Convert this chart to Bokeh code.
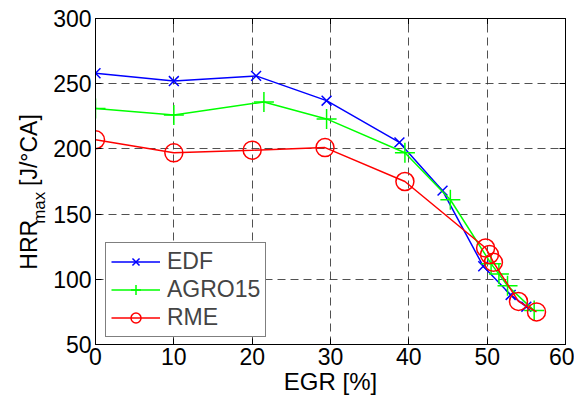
import math
from bokeh.plotting import figure
from bokeh.layouts import row
from bokeh.models import (Range1d, LinearAxis, FixedTicker, Legend, LegendItem)
from bokeh.core.properties import value
from bokeh.embed import file_html
from bokeh.resources import INLINE

# ---- data ----
edf_x = [0, 10, 20.5, 29.5, 38.8, 44.3, 49.5, 53.0, 55.0]
edf_y = [258, 252, 256, 237, 205, 168, 110, 88, 79]

agro_x = [0, 10, 21.5, 29.5, 39.5, 45.3, 50.5, 51.5, 52.6, 56.0]
agro_y = [231, 226, 236, 223, 197, 161, 112, 104, 95, 76]

rme_x = [0, 10, 20, 29.3, 39.5, 49.8, 50.3, 50.8, 54.0, 56.3]
rme_y = [207, 197, 199, 201, 175, 124, 119, 113, 83, 75]

x_ticks = [0, 10, 20, 30, 40, 50, 60]
y_ticks = [50, 100, 150, 200, 250, 300]

FONT = "Liberation Sans"
H = 397
LW = 48  # width of the y-label strip
TOP, BOTTOM = 18, 52

p = figure(width=574 - LW, height=H, output_backend="svg", toolbar_location=None,
           x_range=Range1d(0, 60), y_range=Range1d(50, 300),
           min_border_left=95 - LW, min_border_right=9, min_border_top=TOP,
           min_border_bottom=BOTTOM)
p.background_fill_color = "white"
p.outline_line_color = "black"
p.outline_line_width = 1

for ax in [p.xaxis[0], p.yaxis[0]]:
    ax.major_tick_in = 6
    ax.major_tick_out = 0
    ax.minor_tick_line_color = None
    ax.axis_line_color = "black"
    ax.major_tick_line_color = "black"
    ax.major_label_text_font = FONT
    ax.major_label_text_font_size = "23px"
    ax.major_label_text_color = "black"
    ax.axis_label_text_font = FONT
    ax.axis_label_text_font_size = "24px"
    ax.axis_label_text_font_style = "normal"
    ax.axis_label_text_color = "black"

p.xaxis[0].ticker = FixedTicker(ticks=x_ticks)
p.yaxis[0].ticker = FixedTicker(ticks=y_ticks)
p.xaxis[0].axis_label = "EGR [%]"
p.xaxis[0].major_label_standoff = 3
p.xaxis[0].axis_label_standoff = 0
p.yaxis[0].major_label_standoff = 4

top = LinearAxis(ticker=FixedTicker(ticks=x_ticks),
                 major_label_overrides={t: "" for t in x_ticks},
                 major_tick_in=6, major_tick_out=0, minor_tick_line_color=None,
                 axis_line_color="black", major_label_standoff=0)
right = LinearAxis(ticker=FixedTicker(ticks=y_ticks),
                   major_label_overrides={t: "" for t in y_ticks},
                   major_tick_in=6, major_tick_out=0, minor_tick_line_color=None,
                   axis_line_color="black", major_label_standoff=0)
p.add_layout(top, "above")
p.add_layout(right, "right")

for g in [p.xgrid[0], p.ygrid[0]]:
    g.grid_line_color = "#333333"
    g.grid_line_dash = "8 5"
    g.grid_line_width = 1
    g.grid_line_alpha = 0.85

BLUE, GREEN, RED = "#0000FF", "#00FF00", "#FF0000"

l1 = p.line(edf_x, edf_y, line_color=BLUE, line_width=1.5)
m1 = p.scatter(edf_x, edf_y, marker="x", size=14, line_color=BLUE, line_width=1.5)
l2 = p.line(agro_x, agro_y, line_color=GREEN, line_width=1.5)
m2 = p.scatter(agro_x, agro_y, marker="cross", size=20, line_color=GREEN, line_width=1.5)
l3 = p.line(rme_x, rme_y, line_color=RED, line_width=1.5)
m3 = p.scatter(rme_x, rme_y, marker="circle", size=18, line_color=RED, fill_color=None, line_width=1.5)

legend = Legend(items=[
    LegendItem(label="EDF", renderers=[l1, m1]),
    LegendItem(label="AGRO15", renderers=[l2, m2]),
    LegendItem(label="RME", renderers=[l3, m3]),
], location=(10, 7))
legend.label_text_font = FONT
legend.label_text_font_size = "23px"
legend.glyph_width = 49
legend.glyph_height = 25
legend.label_height = 25
legend.spacing = 1
legend.padding = 5
legend.label_standoff = 7
legend.border_line_color = "black"
legend.border_line_width = 1
legend.background_fill_alpha = 1
p.add_layout(legend, "center")

# ---- y-axis label strip (its frame aligns with the main frame; y = page pixel) ----
q = figure(width=LW, height=H, output_backend="svg", toolbar_location=None,
           x_range=Range1d(0, LW), y_range=Range1d(H - BOTTOM, TOP),
           min_border_left=0, min_border_right=0, min_border_top=TOP,
           min_border_bottom=BOTTOM, outline_line_color=None)
q.axis.visible = False
q.grid.visible = False
common = dict(angle=math.pi / 2, text_font=value(FONT), text_color="black",
              text_align="left", text_baseline="alphabetic")
q.text(x=[28], y=[270], text=["HRR"], text_font_size="23px", **common)
q.text(x=[39], y=[224], text=["max"], text_font_size="17px", **common)
q.text(x=[28], y=[186], text=["[J/°CA]"], text_font_size="23px", **common)

layout = row(q, p, spacing=0)
open("out.html", "w").write(file_html(layout, INLINE))
